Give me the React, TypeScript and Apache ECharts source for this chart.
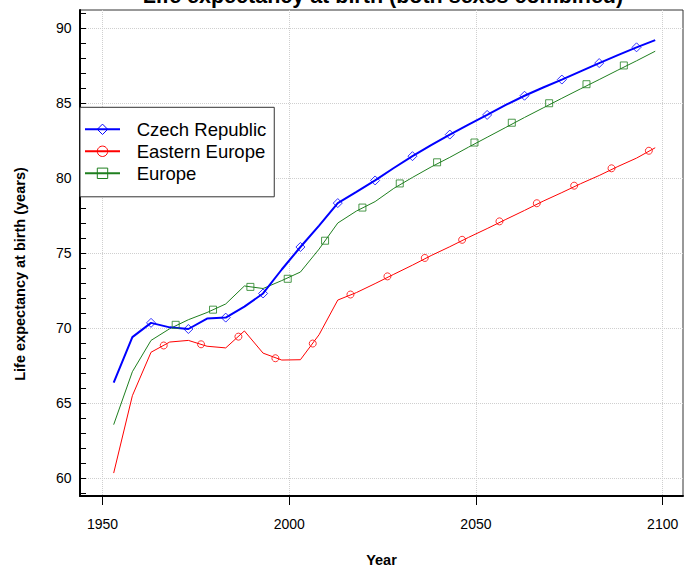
import React, { useEffect, useRef } from "react";
import * as echarts from "echarts";

const titleText = "Life expectancy at birth (both sexes combined)";
const yAxisTitle = "Life expectancy at birth (years)";
const xAxisTitle = "Year";
const seriesNames = ["Czech Republic", "Eastern Europe", "Europe"];

const years = [
  1953, 1958, 1963, 1968, 1973, 1978, 1983, 1988, 1993, 1998, 2003, 2008, 2013, 2018, 2023,
  2028, 2033, 2038, 2043, 2048, 2053, 2058, 2063, 2068, 2073, 2078, 2083, 2088, 2093, 2098,
];
const czech = [
  66.36, 69.39, 70.34, 70.04, 69.93, 70.63, 70.69, 71.42, 72.3, 73.9, 75.4, 76.83, 78.33, 79.08, 79.84,
  80.67, 81.46, 82.2, 82.9, 83.57, 84.21, 84.88, 85.49, 86.04, 86.57, 87.12, 87.67, 88.2, 88.72, 89.2,
];
const easternEurope = [
  60.32, 65.48, 68.38, 69.06, 69.17, 68.78, 68.67, 69.8, 68.32, 67.86, 67.88, 69.55, 71.86, 72.36, 72.96,
  73.58, 74.19, 74.83, 75.42, 76.04, 76.63, 77.24, 77.84, 78.46, 79.03, 79.62, 80.17, 80.77, 81.33, 82.02,
];
const europe = [
  63.55, 67.08, 69.17, 69.95, 70.55, 71.03, 71.6, 72.8, 72.63, 73.16, 73.73, 75.26, 77.0, 77.8, 78.43,
  79.31, 80.04, 80.74, 81.38, 82.06, 82.72, 83.38, 84.04, 84.68, 85.32, 85.95, 86.57, 87.2, 87.82, 88.46,
];

const czechMarkerYears = [1963, 1973, 1983, 1993, 2003, 2013, 2023, 2033, 2043, 2053, 2063, 2073, 2083, 2093];
const czechMarkerValues = [70.34, 69.93, 70.69, 72.3, 75.4, 78.33, 79.84, 81.46, 82.9, 84.21, 85.49, 86.57, 87.67, 88.72];
const easternMarkerYears = [1966.4, 1976.4, 1986.4, 1996.3, 2006.3, 2016.4, 2026.3, 2036.3, 2046.3, 2056.3, 2066.3, 2076.3, 2086.3, 2096.3];
const easternMarkerValues = [68.83, 68.91, 69.42, 67.98, 68.96, 72.23, 73.44, 74.67, 75.88, 77.11, 78.32, 79.49, 80.65, 81.82];
const europeMarkerYears = [1969.6, 1979.6, 1989.6, 1999.6, 2009.6, 2019.6, 2029.6, 2039.6, 2049.6, 2059.6, 2069.6, 2079.6, 2089.6];
const europeMarkerValues = [70.21, 71.22, 72.74, 73.28, 75.82, 78.03, 79.64, 81.05, 82.37, 83.69, 84.99, 86.26, 87.51];

const xTicks = [1950, 2000, 2050, 2100];
const yTicks = [60, 65, 70, 75, 80, 85, 90];
const yMinorTicks = [59, 60, 61, 62, 63, 64, 65, 66, 67, 68, 69, 70, 71, 72, 73, 74, 75, 76, 77, 78, 79, 80, 81, 82, 83, 84, 85, 86, 87, 88, 89, 90, 91];

const FONT = "'Liberation Sans', Arial, Helvetica, sans-serif";
const BLUE = "#0000ff";
const RED = "#ff0000";
const GREEN = "#1f7f1f";

const pairs = (xs: number[], ys: number[]) => xs.map((x, i) => [x, ys[i]]);

export default function App() {
  const ref = useRef<HTMLDivElement>(null);
  useEffect(() => {
    if (!ref.current) return;
    const chart = echarts.init(ref.current, undefined, { renderer: "svg" });
    const X_MIN = 1943.98;
    const X_MAX = 2105.44;
    const Y_MIN = 58.79;
    const Y_MAX = 91.21;
    const lineSeries = (name: string, data: number[], color: string, width: number, symbol: string, z: number) => ({
      type: "line",
      name,
      data: pairs(years, data),
      symbol,
      showSymbol: false,
      symbolSize: 9,
      lineStyle: { color, width },
      itemStyle: { color: "rgba(255,255,255,0)", borderColor: color, borderWidth: 1 },
      z,
      silent: true,
    });
    const markerSeries = (name: string, xs: number[], ys: number[], color: string, symbol: string, size: number, z: number) => ({
      type: "scatter",
      name,
      data: pairs(xs, ys),
      symbol,
      symbolSize: size,
      itemStyle: { color: "rgba(255,255,255,0)", borderColor: color, borderWidth: 1 },
      z,
      silent: true,
    });
    chart.setOption({
      animation: false,
      backgroundColor: "#ffffff",
      textStyle: { fontFamily: FONT },
      grid: {
        left: 80,
        right: 14,
        top: 10,
        bottom: 70.3,
        show: true,
        borderColor: "#333",
        borderWidth: 1,
        backgroundColor: "transparent",
      },
      xAxis: {
        type: "value",
        min: X_MIN,
        max: X_MAX,
        name: xAxisTitle,
        nameLocation: "middle",
        nameGap: 56,
        nameTextStyle: { fontFamily: FONT, fontWeight: "bold", fontSize: 14.5, color: "#000" },
        axisLine: { show: true, lineStyle: { color: "#000", width: 2 } },
        axisTick: { show: true, inside: false, length: 9, customValues: xTicks, lineStyle: { color: "#000", width: 1 } },
        axisLabel: {
          customValues: xTicks,
          margin: 21,
          fontFamily: FONT,
          fontSize: 14,
          color: "#000",
          formatter: (v: number) => String(v),
        },
        splitLine: { show: true, lineStyle: { color: "#cfcfcf", type: "dotted", width: 1 } },
      },
      yAxis: [
        {
          type: "value",
          min: Y_MIN,
          max: Y_MAX,
          position: "left",
          axisLine: { show: true, lineStyle: { color: "#000", width: 2 } },
          axisTick: { show: false, customValues: yTicks },
          axisLabel: {
            customValues: yTicks,
            margin: 8.5,
            fontFamily: FONT,
            fontSize: 14,
            color: "#000",
            formatter: (v: number) => String(v),
          },
          splitLine: { show: true, lineStyle: { color: "#cfcfcf", type: "dotted", width: 1 } },
        },
        {
          type: "value",
          min: Y_MIN,
          max: Y_MAX,
          position: "left",
          offset: 0,
          axisLine: { show: false },
          axisTick: { show: true, inside: true, length: 6, customValues: yMinorTicks, lineStyle: { color: "#000", width: 1 } },
          axisLabel: { show: false },
          splitLine: { show: false },
        },
      ],
      legend: {
        data: seriesNames,
        orient: "vertical",
        left: 80,
        top: 107.3,
        padding: [12.5, 8, 14, 4],
        itemWidth: 35,
        itemHeight: 13,
        itemGap: 3,
        backgroundColor: "#ffffff",
        borderColor: "#333",
        borderWidth: 1,
        borderRadius: 0,
        itemStyle: { borderWidth: 1 },
        textStyle: { fontFamily: FONT, fontSize: 18.5, color: "#000", lineHeight: 19, padding: [0, 0, 0, 11.7] },
        selectedMode: false,
      },
      graphic: [
        {
          type: "text",
          x: 383,
          y: -4.5,
          silent: true,
          style: {
            text: titleText,
            font: `bold 21.5px ${FONT}`,
            fill: "#000",
            textAlign: "center",
            textVerticalAlign: "middle",
            align: "center",
            verticalAlign: "middle",
          },
        },
        {
          type: "text",
          x: 20,
          y: 274,
          rotation: Math.PI / 2,
          silent: true,
          style: {
            text: yAxisTitle,
            font: `bold 14.5px ${FONT}`,
            fill: "#000",
            textAlign: "center",
            textVerticalAlign: "middle",
            align: "center",
            verticalAlign: "middle",
          },
        },
      ],
      series: [
        lineSeries(seriesNames[0], czech, BLUE, 2, "diamond", 4),
        lineSeries(seriesNames[1], easternEurope, RED, 1, "circle", 2),
        lineSeries(seriesNames[2], europe, GREEN, 1, "rect", 3),
        markerSeries(seriesNames[0], czechMarkerYears, czechMarkerValues, BLUE, "diamond", 9, 5),
        markerSeries(seriesNames[1], easternMarkerYears, easternMarkerValues, RED, "circle", 7, 5),
        markerSeries(seriesNames[2], europeMarkerYears, europeMarkerValues, GREEN, "rect", 7, 5),
      ],
    });
    return () => chart.dispose();
  }, []);
  return (
    <div
      ref={ref}
      style={{ position: "absolute", left: 0, top: 0, width: 697, height: 572, background: "#fff" }}
    />
  );
}
